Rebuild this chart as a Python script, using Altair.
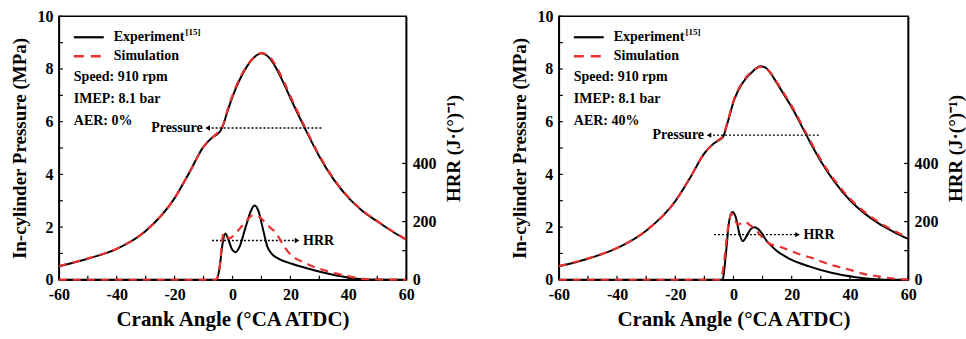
import altair as alt
import pandas as pd

FONT = "Liberation Serif"
RED = "#e8302e"
H = 264

# ---------------- data ----------------
# Left panel (AER 0%)
L_P_EXP_X = [-60, -50, -40, -30, -20, -15, -10, -7, -5, -4, -3, -2, 0, 2.5, 5, 7.5, 10, 12.5, 15, 17.5, 20, 25, 30, 35, 40, 45, 50, 55, 60]
L_P_EXP_Y = [0.51, 0.80, 1.17, 1.85, 3.10, 4.05, 5.05, 5.40, 5.55, 5.68, 5.95, 6.30, 6.95, 7.60, 8.10, 8.45, 8.60, 8.45, 8.05, 7.50, 6.90, 5.75, 4.68, 3.80, 3.12, 2.60, 2.22, 1.85, 1.52]
L_P_SIM_X = [-60, -50, -40, -30, -20, -15, -10, -7, -5, -3, -2, 0, 2.5, 5, 7.5, 10, 12.5, 15, 17.5, 20, 25, 30, 35, 40, 45, 50, 55, 60]
L_P_SIM_Y = [0.52, 0.81, 1.18, 1.86, 3.10, 4.05, 5.05, 5.40, 5.60, 5.95, 6.35, 7.00, 7.65, 8.12, 8.45, 8.60, 8.50, 8.12, 7.58, 6.97, 5.80, 4.72, 3.83, 3.14, 2.62, 2.23, 1.86, 1.53]
L_H_EXP_X = [-60, -6, -5.4, -4.5, -3.5, -2.5, -1.5, -0.2, 1, 2.5, 4.5, 6.5, 7.6, 9, 10.5, 12, 13.5, 16, 20.5, 28.5, 34, 38, 42, 46, 60]
L_H_EXP_Y = [0, 0, 2, 40, 120, 159, 140, 105, 95, 115, 180, 240, 255, 235, 175, 115, 90, 72, 55, 32, 19, 11, 4, 1, 0]
L_H_SIM_X = [-60, -5.8, -4.5, -3.1, -2, -1.2, 2, 5, 7, 9, 11, 13, 15.2, 17, 19.3, 22, 24.5, 28, 32, 36, 39, 42, 45, 50, 60]
L_H_SIM_Y = [0, 0, 40, 160, 145, 143, 170, 205, 222, 218, 200, 180, 159, 128, 95, 72, 61, 45, 32, 21, 15, 8, 3, 1, 0]

# Right panel (AER 40%)
R_P_EXP_X = [-60, -50, -40, -30, -20, -15, -10, -7, -5, -3.6, -2.1, 0.2, 3, 6.5, 9.3, 11, 13, 15, 17.5, 20, 25, 30, 35, 40, 45, 50, 55, 60]
R_P_EXP_Y = [0.51, 0.80, 1.20, 1.86, 2.98, 3.85, 4.80, 5.15, 5.30, 5.42, 5.93, 6.82, 7.45, 7.90, 8.10, 8.05, 7.80, 7.45, 7.00, 6.55, 5.50, 4.50, 3.68, 3.02, 2.52, 2.13, 1.82, 1.55]
R_P_SIM_X = [-60, -50, -40, -30, -20, -15, -10, -7, -5, -3.6, -2.1, 0.2, 3, 6.5, 9.3, 11, 13, 15, 17.5, 20, 25, 30, 35, 40, 45, 50, 55, 60]
R_P_SIM_Y = [0.52, 0.81, 1.21, 1.87, 2.98, 3.86, 4.80, 5.15, 5.32, 5.45, 5.98, 6.86, 7.48, 7.92, 8.08, 8.04, 7.82, 7.48, 7.05, 6.60, 5.56, 4.56, 3.74, 3.08, 2.58, 2.18, 1.87, 1.60]
R_H_EXP_X = [-60, -4, -3.6, -2.5, -1.5, -0.4, 0.8, 2, 3.2, 4.5, 6, 7.3, 9, 11.3, 14.7, 19.3, 26, 34, 42, 49, 55, 60]
R_H_EXP_Y = [0, 0, 5, 100, 200, 233, 215, 160, 133, 150, 175, 181, 170, 135, 101, 72, 46, 23, 9, 2, 0, 0]
R_H_SIM_X = [-60, -4.5, -3.5, -2, -0.6, 0.5, 1.5, 3.8, 6, 7.8, 10, 12.4, 15.8, 20, 23.8, 27.3, 30.7, 34, 38.7, 44.4, 50.2, 56, 60]
R_H_SIM_Y = [0, 0, 40, 170, 228, 205, 190, 199, 185, 170, 145, 124, 114, 98, 84, 74, 61, 50, 38, 21, 11, 3, 1]

X_TICKS = list(range(-60, 61, 10))
X_LABELS = list(range(-60, 61, 20))
P_TICKS = list(range(0, 11, 1))
P_LABELS = list(range(0, 11, 2))
H_TICKS = [100, 200, 300, 400]
H_LABELS = [0, 200, 400]

xs = alt.Scale(domain=[-60, 60], nice=False, zero=False)
ps = alt.Scale(domain=[0, 10], nice=False)
hs = alt.Scale(domain=[0, 906], nice=False)

XAXIS = alt.Axis(values=X_LABELS, title="Crank Angle (°CA ATDC)", titleFontSize=21,
                 labelPadding=7, titlePadding=6, ticks=False, grid=False, labelFlush=False,
                 labelExpr="datum.value < 0 ? '-' + abs(datum.value) : '' + datum.value")
YAXIS = alt.Axis(values=P_LABELS, title="In-cylinder Pressure (MPa)", titleFontSize=19,
                 labelPadding=6, titlePadding=7, ticks=False, grid=False)
HAXIS = alt.Axis(values=H_LABELS, orient="right", title="HRR (J·(°)⁻¹)", titleFontSize=19,
                 labelPadding=6, titlePadding=8, ticks=False, grid=False,
                 titleAngle=270, titleBaseline="top")


def X(field="x"):
    return alt.X(f"{field}:Q", scale=xs, axis=XAXIS)


def YP(field="y"):
    return alt.Y(f"{field}:Q", scale=ps, axis=YAXIS)


def YH(field="y"):
    return alt.Y(f"{field}:Q", scale=hs, axis=HAXIS)


def df(xv, yv):
    return pd.DataFrame({"x": xv, "y": yv})


def txt(s, px, py, size=14, align="left"):
    return alt.Chart(pd.DataFrame({"a": [0]})).mark_text(
        text=s, font=FONT, fontWeight="bold", fontSize=size, align=align,
        baseline="middle", color="black"
    ).encode(x=alt.value(px), y=alt.value(py))


def panel(W, pex, pey, psx, psy, hex_, hey, hsx, hsy, aer, parrow, harrow):
    p_exp = alt.Chart(df(pex, pey)).mark_line(color="black", strokeWidth=2, interpolate="monotone").encode(
        x=X(), y=YP())
    p_sim = alt.Chart(df(psx, psy)).mark_line(color=RED, strokeWidth=2.2, strokeDash=[8, 6], interpolate="monotone").encode(
        x=X(), y=YP())

    xt = alt.Chart(pd.DataFrame({"x": X_TICKS})).mark_rule(color="black", strokeWidth=1.2).encode(
        x=X(), y=alt.value(H), y2=alt.value(H - 4))
    yt = alt.Chart(pd.DataFrame({"y": P_TICKS})).mark_rule(color="black", strokeWidth=1.2).encode(
        y=YP(), x=alt.value(0), x2=alt.value(4))

    # pressure annotation arrow (points left)
    pa = pd.DataFrame({"x": [parrow[0]], "x2": [parrow[1]], "y": [parrow[2]]})
    p_line = alt.Chart(pa).mark_rule(color="black", strokeWidth=1.3, strokeDash=[2, 2]).encode(
        x=X(), x2="x2:Q", y=YP())
    p_head = alt.Chart(pa).mark_point(shape="triangle-left", filled=True, color="black", size=28, opacity=1).encode(
        x=X(), y=YP())
    p_lab = alt.Chart(pa).mark_text(text="Pressure", font=FONT, fontWeight="bold", fontSize=14, align="right",
                                    baseline="middle", dx=-5, color="black").encode(x=X(), y=YP())

    # HRR annotation arrow (points right)
    ha = pd.DataFrame({"x": [harrow[0]], "x2": [harrow[1]], "y": [harrow[2]]})
    h_line = alt.Chart(ha).mark_rule(color="black", strokeWidth=1.3, strokeDash=[2, 2]).encode(
        x=X(), x2="x2:Q", y=YP())
    h_head = alt.Chart(ha).mark_point(shape="triangle-right", filled=True, color="black", size=28, opacity=1).encode(
        x=X("x2"), y=YP())
    h_lab = alt.Chart(ha).mark_text(text="HRR", font=FONT, fontWeight="bold", fontSize=14, align="left",
                                    baseline="middle", dx=6, color="black").encode(x=X("x2"), y=YP())

    # legend
    leg1 = alt.Chart(pd.DataFrame({"a": [0]})).mark_rule(color="black", strokeWidth=2.2).encode(
        x=alt.value(15), x2=alt.value(45), y=alt.value(21))
    leg2 = alt.Chart(pd.DataFrame({"a": [0]})).mark_rule(color=RED, strokeWidth=2.4, strokeDash=[10, 7]).encode(
        x=alt.value(15), x2=alt.value(47), y=alt.value(40))
    texts = [
        txt("Experiment", 55, 21),
        txt("[15]", 127, 16, size=9),
        txt("Simulation", 55, 40),
        txt("Speed: 910 rpm", 15, 61),
        txt("IMEP: 8.1 bar", 15, 83),
        txt(f"AER: {aer}", 15, 105),
    ]

    h_exp = alt.Chart(df(hex_, hey)).mark_line(color="black", strokeWidth=2, interpolate="monotone").encode(
        x=X(), y=YH())
    h_sim = alt.Chart(df(hsx, hsy)).mark_line(color=RED, strokeWidth=2.2, strokeDash=[8, 6], interpolate="monotone").encode(
        x=X(), y=YH())
    ht = alt.Chart(pd.DataFrame({"y": H_TICKS})).mark_rule(color="black", strokeWidth=1.2).encode(
        y=YH(), x=alt.value(W), x2=alt.value(W - 4))

    p_layer = alt.layer(p_exp, p_sim, xt, yt, p_line, p_head, p_lab, h_line, h_head, h_lab, leg1, leg2, *texts)
    h_layer = alt.layer(h_exp, h_sim, ht)
    return alt.layer(p_layer, h_layer).resolve_scale(y="independent").properties(width=W, height=H)


left = panel(348, L_P_EXP_X, L_P_EXP_Y, L_P_SIM_X, L_P_SIM_Y, L_H_EXP_X, L_H_EXP_Y, L_H_SIM_X, L_H_SIM_Y,
             "0%", (-8.6, 30.7, 5.76), (-7.1, 22.3, 1.49))
right = panel(350, R_P_EXP_X, R_P_EXP_Y, R_P_SIM_X, R_P_SIM_Y, R_H_EXP_X, R_H_EXP_Y, R_H_SIM_X, R_H_SIM_Y,
              "40%", (-8.4, 29.3, 5.49), (-6.7, 22.0, 1.71))

chart = alt.hconcat(left, right, spacing=46).properties(
    padding={"left": 10, "top": 7, "right": 0, "bottom": 0}
).configure_axis(
    labelFont=FONT, labelFontWeight="bold", labelFontSize=16, labelColor="black",
    titleFont=FONT, titleFontWeight="bold", titleColor="black",
    domainColor="black", domainWidth=1.5
).configure_view(stroke="black", strokeWidth=1.5)

chart.save("out.html", embed_options={"renderer": "svg", "actions": False})
